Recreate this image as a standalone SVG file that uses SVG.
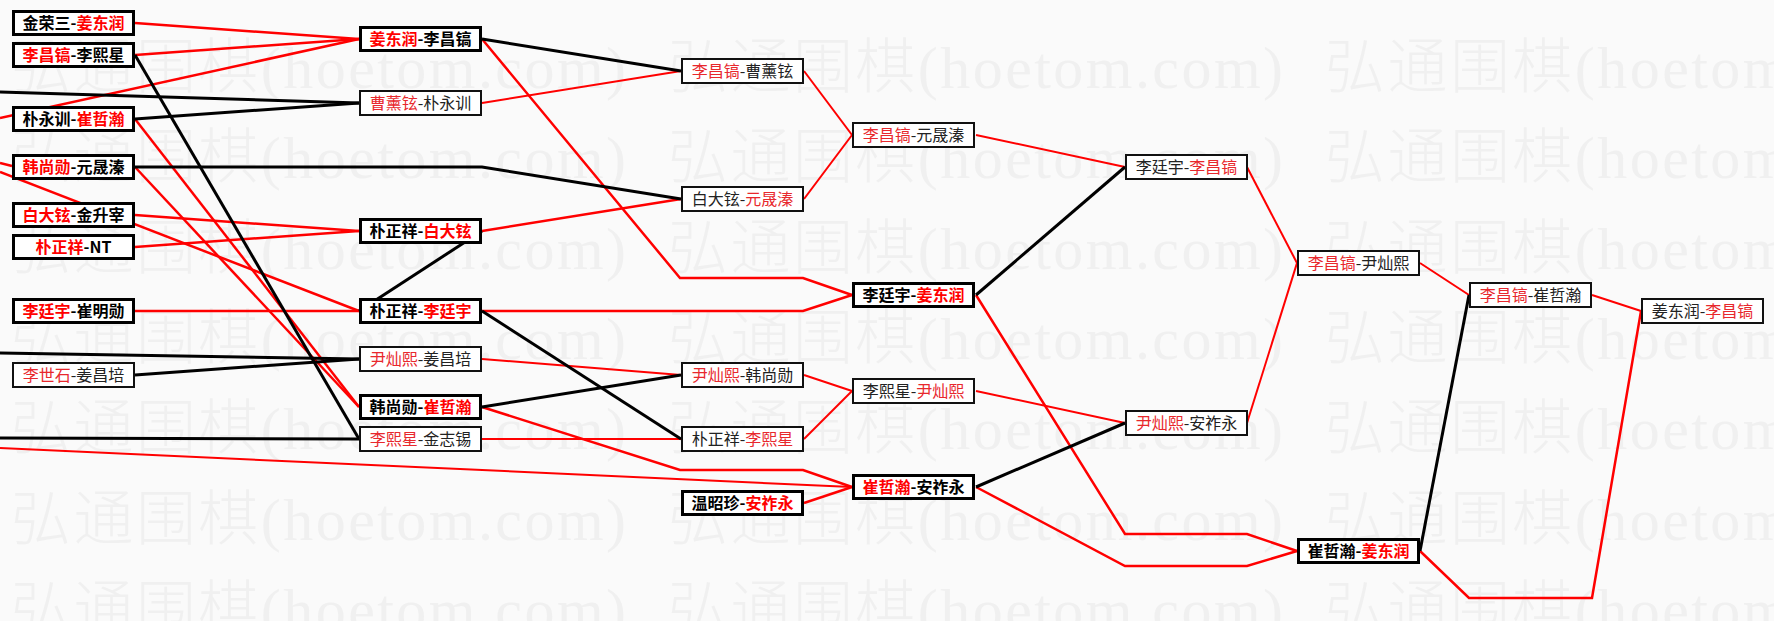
<svg xmlns="http://www.w3.org/2000/svg" xmlns:xlink="http://www.w3.org/1999/xlink" width="1774" height="621" viewBox="0 0 1774 621">
<style>
.bg{fill:#fafafa}
.wm{font-family:"Liberation Serif","Noto Sans CJK SC",serif;font-size:60px;font-weight:300;fill:#f0f0f0}
.c{fill:none;stroke-linejoin:miter}
.r{stroke:#f00;stroke-width:2.5}
.r2{stroke:#f00;stroke-width:2}
.k{stroke:#000;stroke-width:3}
.bx{fill:#fff;stroke:#000}
.thick .bx{stroke-width:3}
.thin .bx{stroke-width:2;stroke:#111}
.t{font-family:"Noto Sans CJK SC",sans-serif;font-size:16px;text-anchor:middle;fill:#000}
.thick .t{font-weight:bold}
.thin .t{fill:#222}
.w{fill:#f00}
.thin .w{fill:#e8282d}
</style>
<defs>
<g id="wmrow">
<text class="wm" x="11" y="0" textLength="615" lengthAdjust="spacing">弘通围棋(hoetom.com)</text>
<text class="wm" x="668" y="0" textLength="615" lengthAdjust="spacing">弘通围棋(hoetom.com)</text>
<text class="wm" x="1325" y="0" textLength="615" lengthAdjust="spacing">弘通围棋(hoetom.com)</text>
</g>
</defs>
<rect class="bg" x="0" y="0" width="1774" height="621"/>
<g id="watermark">
<use xlink:href="#wmrow" y="88"/>
<use xlink:href="#wmrow" y="178"/>
<use xlink:href="#wmrow" y="269"/>
<use xlink:href="#wmrow" y="359"/>
<use xlink:href="#wmrow" y="449"/>
<use xlink:href="#wmrow" y="540"/>
<use xlink:href="#wmrow" y="630"/>
</g>
<g id="connectors">
<polyline class="c r" points="135,23 359,39"/>
<polyline class="c r" points="135,55 359,39"/>
<polyline class="c r" points="0,118 359,39"/>
<polyline class="c r" points="135,119 359,407"/>
<polyline class="c r" points="135,167 359,407"/>
<polyline class="c r" points="0,163 12,166"/>
<polyline class="c r" points="0,172 359,311"/>
<polyline class="c r" points="135,215 359,231"/>
<polyline class="c r" points="135,247 359,231"/>
<polyline class="c r" points="135,311 359,311"/>
<polyline class="c r" points="482,39 680,278 803,278 852,295"/>
<polyline class="c r2" points="482,103 681,71"/>
<polyline class="c r" points="482,231 681,199"/>
<polyline class="c r" points="482,311 803,311 852,295"/>
<polyline class="c r2" points="482,359 681,375"/>
<polyline class="c r" points="482,407 680,470 803,470 852,487"/>
<polyline class="c r2" points="482,439 681,439"/>
<polyline class="c r2" points="0,448 852,487"/>
<polyline class="c r" points="804,503 852,487"/>
<polyline class="c r2" points="804,71 852,135"/>
<polyline class="c r2" points="804,199 852,135"/>
<polyline class="c r2" points="804,375 852,391"/>
<polyline class="c r2" points="804,439 852,391"/>
<polyline class="c r2" points="976,135 1125,167"/>
<polyline class="c r" points="976,295 1125,534 1247,534 1297,551"/>
<polyline class="c r2" points="976,391 1125,423"/>
<polyline class="c r" points="976,487 1125,566 1247,566 1297,551"/>
<polyline class="c r2" points="1247,167 1297,263"/>
<polyline class="c r2" points="1247,423 1297,263"/>
<polyline class="c r2" points="1420,263 1469,295"/>
<polyline class="c r" points="1420,551 1469,598 1592,598 1641,311"/>
<polyline class="c r2" points="1592,295 1641,311"/>
<polyline class="c k" points="135,55 359,439"/>
<polyline class="c k" points="0,92 359,103"/>
<polyline class="c k" points="135,119 359,103"/>
<polyline class="c k" points="135,167 482,167 681,199"/>
<polyline class="c k" points="482,231 359,311"/>
<polyline class="c k" points="482,39 681,71"/>
<polyline class="c k" points="482,311 681,439"/>
<polyline class="c k" points="0,353 359,359"/>
<polyline class="c k" points="135,375 359,359"/>
<polyline class="c k" points="482,407 681,375"/>
<polyline class="c k" points="0,438 359,439"/>
<polyline class="c k" points="976,295 1125,167"/>
<polyline class="c k" points="976,487 1125,423"/>
<polyline class="c k" points="1420,551 1469,295"/>
</g>
<g id="n-a1" class="thick" transform="translate(12,10)"><rect class="bx" x="1.5" y="1.5" width="120" height="23"/><text class="t" x="61.5" y="19">金荣三-<tspan class="w">姜东润</tspan></text></g>
<g id="n-a2" class="thick" transform="translate(12,42)"><rect class="bx" x="1.5" y="1.5" width="120" height="23"/><text class="t" x="61.5" y="19"><tspan class="w">李昌镐</tspan>-李熙星</text></g>
<g id="n-a3" class="thick" transform="translate(12,106)"><rect class="bx" x="1.5" y="1.5" width="120" height="23"/><text class="t" x="61.5" y="19">朴永训-<tspan class="w">崔哲瀚</tspan></text></g>
<g id="n-a4" class="thick" transform="translate(12,154)"><rect class="bx" x="1.5" y="1.5" width="120" height="23"/><text class="t" x="61.5" y="19"><tspan class="w">韩尚勋</tspan>-元晟溱</text></g>
<g id="n-a5" class="thick" transform="translate(12,202)"><rect class="bx" x="1.5" y="1.5" width="120" height="23"/><text class="t" x="61.5" y="19"><tspan class="w">白大铉</tspan>-金升宰</text></g>
<g id="n-a6" class="thick" transform="translate(12,234)"><rect class="bx" x="1.5" y="1.5" width="120" height="23"/><text class="t" x="61.5" y="19"><tspan class="w">朴正祥</tspan>-NT</text></g>
<g id="n-a7" class="thick" transform="translate(12,298)"><rect class="bx" x="1.5" y="1.5" width="120" height="23"/><text class="t" x="61.5" y="19"><tspan class="w">李廷宇</tspan>-崔明勋</text></g>
<g id="n-a8" class="thin" transform="translate(12,362)"><rect class="bx" x="1" y="1" width="121" height="24"/><text class="t" x="61.5" y="19"><tspan class="w">李世石</tspan>-姜昌培</text></g>
<g id="n-b1" class="thick" transform="translate(359,26)"><rect class="bx" x="1.5" y="1.5" width="120" height="23"/><text class="t" x="61.5" y="19"><tspan class="w">姜东润</tspan>-李昌镐</text></g>
<g id="n-b2" class="thin" transform="translate(359,90)"><rect class="bx" x="1" y="1" width="121" height="24"/><text class="t" x="61.5" y="19"><tspan class="w">曹薰铉</tspan>-朴永训</text></g>
<g id="n-b3" class="thick" transform="translate(359,218)"><rect class="bx" x="1.5" y="1.5" width="120" height="23"/><text class="t" x="61.5" y="19">朴正祥-<tspan class="w">白大铉</tspan></text></g>
<g id="n-b4" class="thick" transform="translate(359,298)"><rect class="bx" x="1.5" y="1.5" width="120" height="23"/><text class="t" x="61.5" y="19">朴正祥-<tspan class="w">李廷宇</tspan></text></g>
<g id="n-b5" class="thin" transform="translate(359,346)"><rect class="bx" x="1" y="1" width="121" height="24"/><text class="t" x="61.5" y="19"><tspan class="w">尹灿熙</tspan>-姜昌培</text></g>
<g id="n-b6" class="thick" transform="translate(359,394)"><rect class="bx" x="1.5" y="1.5" width="120" height="23"/><text class="t" x="61.5" y="19">韩尚勋-<tspan class="w">崔哲瀚</tspan></text></g>
<g id="n-b7" class="thin" transform="translate(359,426)"><rect class="bx" x="1" y="1" width="121" height="24"/><text class="t" x="61.5" y="19"><tspan class="w">李熙星</tspan>-金志锡</text></g>
<g id="n-c1" class="thin" transform="translate(681,58)"><rect class="bx" x="1" y="1" width="121" height="24"/><text class="t" x="61.5" y="19"><tspan class="w">李昌镐</tspan>-曹薰铉</text></g>
<g id="n-c2" class="thin" transform="translate(681,186)"><rect class="bx" x="1" y="1" width="121" height="24"/><text class="t" x="61.5" y="19">白大铉-<tspan class="w">元晟溱</tspan></text></g>
<g id="n-c3" class="thin" transform="translate(681,362)"><rect class="bx" x="1" y="1" width="121" height="24"/><text class="t" x="61.5" y="19"><tspan class="w">尹灿熙</tspan>-韩尚勋</text></g>
<g id="n-c4" class="thin" transform="translate(681,426)"><rect class="bx" x="1" y="1" width="121" height="24"/><text class="t" x="61.5" y="19">朴正祥-<tspan class="w">李熙星</tspan></text></g>
<g id="n-c5" class="thick" transform="translate(681,490)"><rect class="bx" x="1.5" y="1.5" width="120" height="23"/><text class="t" x="61.5" y="19">温昭珍-<tspan class="w">安祚永</tspan></text></g>
<g id="n-d1" class="thin" transform="translate(852,122)"><rect class="bx" x="1" y="1" width="121" height="24"/><text class="t" x="61.5" y="19"><tspan class="w">李昌镐</tspan>-元晟溱</text></g>
<g id="n-d2" class="thick" transform="translate(852,282)"><rect class="bx" x="1.5" y="1.5" width="120" height="23"/><text class="t" x="61.5" y="19">李廷宇-<tspan class="w">姜东润</tspan></text></g>
<g id="n-d3" class="thin" transform="translate(852,378)"><rect class="bx" x="1" y="1" width="121" height="24"/><text class="t" x="61.5" y="19">李熙星-<tspan class="w">尹灿熙</tspan></text></g>
<g id="n-d4" class="thick" transform="translate(852,474)"><rect class="bx" x="1.5" y="1.5" width="120" height="23"/><text class="t" x="61.5" y="19"><tspan class="w">崔哲瀚</tspan>-安祚永</text></g>
<g id="n-e1" class="thin" transform="translate(1125,154)"><rect class="bx" x="1" y="1" width="121" height="24"/><text class="t" x="61.5" y="19">李廷宇-<tspan class="w">李昌镐</tspan></text></g>
<g id="n-e2" class="thin" transform="translate(1125,410)"><rect class="bx" x="1" y="1" width="121" height="24"/><text class="t" x="61.5" y="19"><tspan class="w">尹灿熙</tspan>-安祚永</text></g>
<g id="n-f1" class="thin" transform="translate(1297,250)"><rect class="bx" x="1" y="1" width="121" height="24"/><text class="t" x="61.5" y="19"><tspan class="w">李昌镐</tspan>-尹灿熙</text></g>
<g id="n-f2" class="thick" transform="translate(1297,538)"><rect class="bx" x="1.5" y="1.5" width="120" height="23"/><text class="t" x="61.5" y="19">崔哲瀚-<tspan class="w">姜东润</tspan></text></g>
<g id="n-g1" class="thin" transform="translate(1469,282)"><rect class="bx" x="1" y="1" width="121" height="24"/><text class="t" x="61.5" y="19"><tspan class="w">李昌镐</tspan>-崔哲瀚</text></g>
<g id="n-h1" class="thin" transform="translate(1641,298)"><rect class="bx" x="1" y="1" width="121" height="24"/><text class="t" x="61.5" y="19">姜东润-<tspan class="w">李昌镐</tspan></text></g>
</svg>
